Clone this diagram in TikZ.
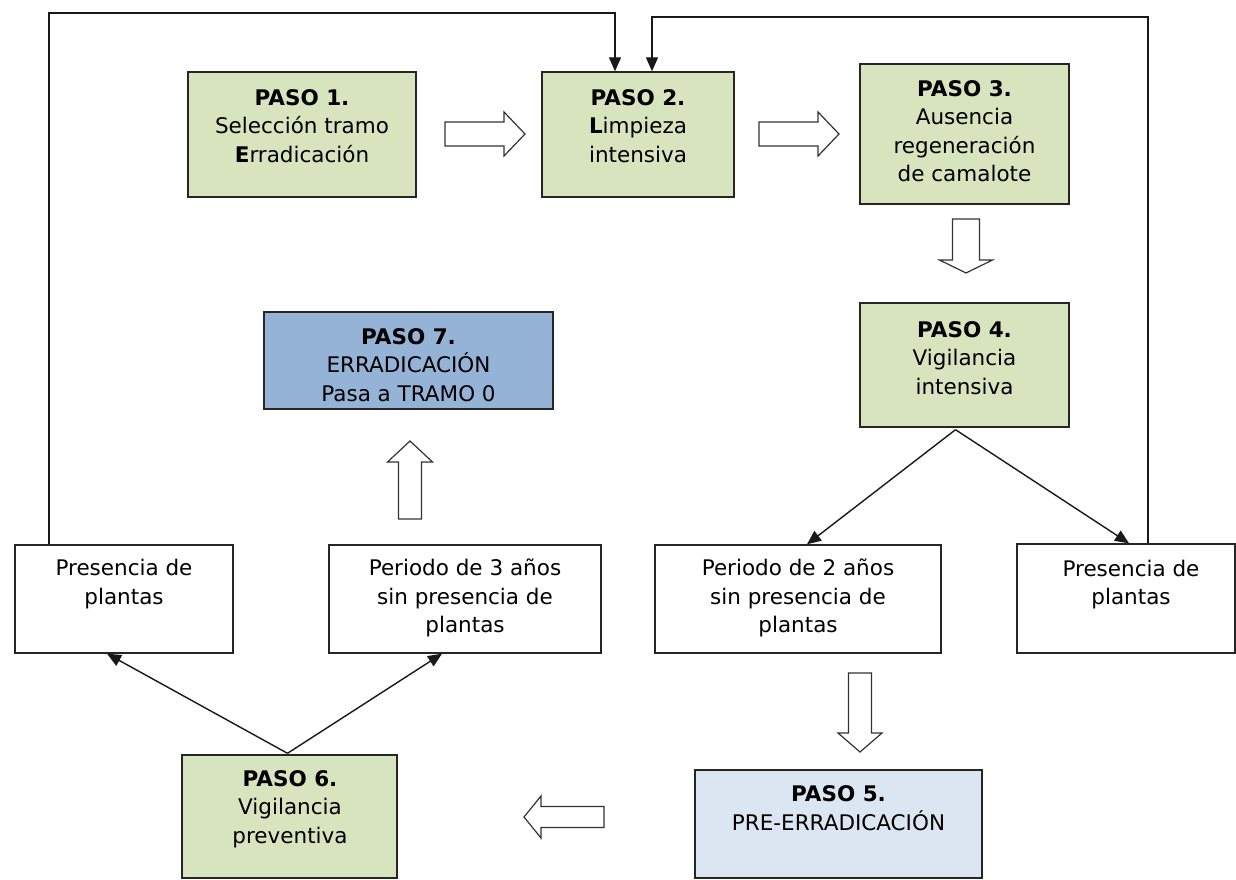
\documentclass[tikz,border=0pt]{standalone}
\usepackage{fontspec}
\setmainfont{DejaVu Sans}
\usetikzlibrary{arrows.meta,calc}
\definecolor{pasogreen}{HTML}{D7E4BD}
\definecolor{pasoblue}{HTML}{95B3D7}
\definecolor{pasopale}{HTML}{DCE6F2}
\definecolor{edgecol}{HTML}{262626}
\newcommand{\blockarrowdraw}[7]{%
  \draw[blockarrow,shift={(#1,#2)},rotate=#3]
    (0,-#5) -- ({#4-#7},-#5) -- ({#4-#7},-#6) -- (#4,0) -- ({#4-#7},#6) -- ({#4-#7},#5) -- (0,#5) -- cycle;}
\begin{document}
\begin{tikzpicture}[x=1pt,y=-1pt,
  box/.style={rectangle, draw=edgecol, line width=1.4pt, inner sep=0pt},
  gbox/.style={box, fill=pasogreen},
  wbox/.style={box, fill=white},
  txt/.style={align=center, inner sep=0pt, font=\fontsize{21.5}{28.5}\selectfont, text=black},
  arr/.style={draw=black!90, line width=1.4pt, -{Triangle[length=14pt,width=12pt]}},
  blockarrow/.style={draw=black!80, line width=1.2pt, fill=white, line join=miter}]
\useasboundingbox (0,0) rectangle (1236,880);
\fill[white] (0,0) rectangle (1236,880);

% boxes
\node[gbox, minimum width=228, minimum height=125] (p1) at (302,134.5) {};
\node[gbox, minimum width=192, minimum height=125] (p2) at (638,134.5) {};
\node[gbox, minimum width=209, minimum height=140] (p3) at (964.5,134) {};
\node[gbox, minimum width=209, minimum height=124] (p4) at (964.5,365) {};
\node[box, fill=pasoblue, minimum width=289, minimum height=97] (p7) at (408.5,360.5) {};
\node[wbox, minimum width=218, minimum height=108] (pl) at (124,599) {};
\node[wbox, minimum width=272, minimum height=108] (p3y) at (465,599) {};
\node[wbox, minimum width=286, minimum height=108] (p2y) at (798,599) {};
\node[wbox, minimum width=218, minimum height=109] (pr) at (1126,598.5) {};
\node[gbox, minimum width=215, minimum height=123] (p6) at (289.5,816.5) {};
\node[box, fill=pasopale, minimum width=287, minimum height=108] (p5) at (838.5,824) {};

% texts
\node[txt] (p1t) at (302,126) {\textbf{PASO 1.}\\Selección tramo\\\textbf{E}rradicación};
\node[txt] (p2t) at (638,126) {\textbf{PASO 2.}\\\textbf{L}impieza\\intensiva};
\node[txt] (p3t) at (964.5,131) {\textbf{PASO 3.}\\Ausencia\\regeneración\\de camalote};
\node[txt] (p4t) at (964.5,358) {\textbf{PASO 4.}\\Vigilancia\\intensiva};
\node[txt] (p7t) at (408.5,365) {\textbf{PASO 7.}\\ERRADICACIÓN\\Pasa a TRAMO 0};
\node[txt] (plt) at (124,584) {Presencia de\\plantas};
\node[txt] (p3yt) at (465,598) {Periodo de 3 años\\sin presencia de\\plantas};
\node[txt] (p2yt) at (798,598) {Periodo de 2 años\\sin presencia de\\plantas};
\node[txt] (prt) at (1131,584.5) {Presencia de\\plantas};
\node[txt] (p6t) at (290,809) {\textbf{PASO 6.}\\Vigilancia\\preventiva};
\node[txt] (p5t) at (838.5,808) {\textbf{PASO 5.}\\PRE-ERRADICACIÓN};

% block arrows
\blockarrowdraw{445}{134}{0}{80}{12}{22}{21}
\blockarrowdraw{759}{134}{0}{80}{12}{22}{21}
\blockarrowdraw{966}{219}{-90}{54}{13.5}{26.5}{13}
\blockarrowdraw{410}{519}{90}{78}{11.5}{22.5}{21}
\blockarrowdraw{860}{673}{-90}{79}{11.5}{22}{19}
\blockarrowdraw{604}{817}{180}{80}{10.5}{21}{17}

% feedback loops
\coordinate (c1) at (49,13);
\coordinate (c2) at (615,13);
\coordinate (c3) at (1148,17);
\coordinate (c4) at (652,17);
\draw[arr] (c1 |- pl.north) -- (c1) -- (c2) -- (c2 |- p2.north);
\draw[arr] (c3 |- pr.north) -- (c3) -- (c4) -- (c4 |- p2.north);

% branches
\coordinate (p4b) at ($(p4.south)+(-9,2)$);
\draw[arr] (p4b) -- ($(p2y.north)+(9,0)$);
\draw[arr] (p4b) -- ($(pr.north)+(3,0)$);
\coordinate (p6b) at ($(p6.north)+(-2,-1)$);
\draw[arr] (p6b) -- ($(pl.south)+(-17,0)$);
\draw[arr] (p6b) -- ($(p3y.south)+(-23,0)$);
\end{tikzpicture}
\end{document}
